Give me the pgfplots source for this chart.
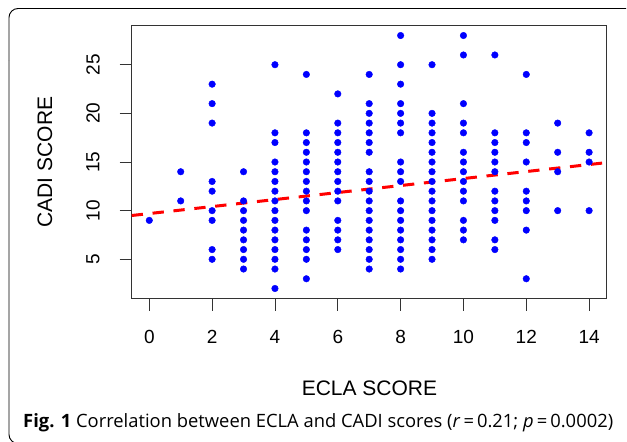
\documentclass[border=0pt]{standalone}
\usepackage{pgfplots}
\pgfplotsset{compat=1.18}
\usepackage{pgfplotstable}
\usepackage{fontspec}
\setmainfont{Liberation Sans}
\newfontfamily\capfont{Open Sans}
\pgfplotstableread{
x y
0 9
1 14
1 11
2 23
2 21
2 19
2 13
2 12
2 10
2 9
2 6
2 5
3 14
3 11
3 10
3 9
3 8
3 7
3 6
3 5
3 4
4 25
4 18
4 17
4 15
4 14
4 13
4 12
4 11
4 10
4 9
4 8
4 7
4 6
4 5
4 4
4 2
5 24
5 18
5 17
5 16
5 15
5 14
5 13
5 12
5 11
5 10
5 8
5 7
5 6
5 5
5 3
6 22
6 19
6 18
6 17
6 16
6 15
6 14
6 13
6 12
6 11
6 9
6 8
6 7
6 6
7 24
7 21
7 20
7 19
7 18
7 17
7 16
7 14
7 13
7 12
7 11
7 10
7 9
7 8
7 7
7 6
7 5
7 4
8 28
8 25
8 23
8 21
8 20
8 19
8 18
8 15
8 14
8 13
8 11
8 10
8 9
8 8
8 7
8 6
8 5
8 4
9 25
9 20
9 19
9 18
9 17
9 16
9 15
9 14
9 13
9 12
9 11
9 10
9 9
9 8
9 7
9 6
9 5
10 28
10 26
10 21
10 19
10 18
10 16
10 15
10 14
10 13
10 12
10 11
10 9
10 8
10 7
11 26
11 18
11 17
11 16
11 15
11 14
11 12
11 11
11 10
11 9
11 7
11 6
12 24
12 18
12 17
12 15
12 12
12 11
12 10
12 8
12 3
13 19
13 16
13 14
13 10
14 18
14 16
14 15
14 10
}\scores
\begin{document}
\begin{tikzpicture}
\useasboundingbox (0pt,0pt) rectangle (627pt,-442pt);
\draw[black, line width=0.9pt, rounded corners=9pt] (9pt,-60pt) -- (9pt,-443.5pt) -- (60pt,-443.5pt);
\draw[black, line width=0.9pt, rounded corners=9pt] (9pt,-60pt) -- (9pt,-8.5pt) -- (626pt,-8.5pt);
\begin{axis}[
  at={(131.7pt,-298.6pt)}, anchor=south west,
  scale only axis, width=475pt, height=273.2pt,
  xmin=-0.56, xmax=14.56, ymin=0.96, ymax=29.04,
  xtick={0,2,4,6,8,10,12,14},
  ytick={5,10,15,20,25},
  axis line style={black!80, line width=0.9pt},
  tick style={black!80, line width=0.9pt},
  tick align=outside,
  major tick length=12pt,
  xtick pos=bottom, ytick pos=left,
  tick label style={font=\fontsize{19}{19}\selectfont},
  xticklabel style={anchor=center, yshift=-26pt},
  yticklabel style={anchor=center, rotate=90, yshift=26.7pt},
  /pgf/number format/assume math mode=true,
  clip=false,
]
\addplot[only marks, mark=*, mark size=3.3pt, color=blue, mark options={draw=blue, fill=blue}] table[x=x,y=y] {\scores};
\addplot[red, line width=3pt, dash pattern=on 11.3pt off 9.7pt] coordinates {(-0.56,9.50) (14.56,14.94)};
\end{axis}
\node[rotate=90, font=\fontsize{21}{21}\selectfont] at (45pt,-162pt) {CADI SCORE};
\node[font=\fontsize{21}{21}\selectfont] at (369.5pt,-388.5pt) {ECLA SCORE};
\node[anchor=base west, inner sep=0pt] at (23pt,-427pt) {\resizebox{590pt}{!}{\capfont\textbf{Fig. 1} Correlation between ECLA and CADI scores (\textit{r}\,=\,0.21; \textit{p}\,=\,0.0002)}};
\end{tikzpicture}
\end{document}
